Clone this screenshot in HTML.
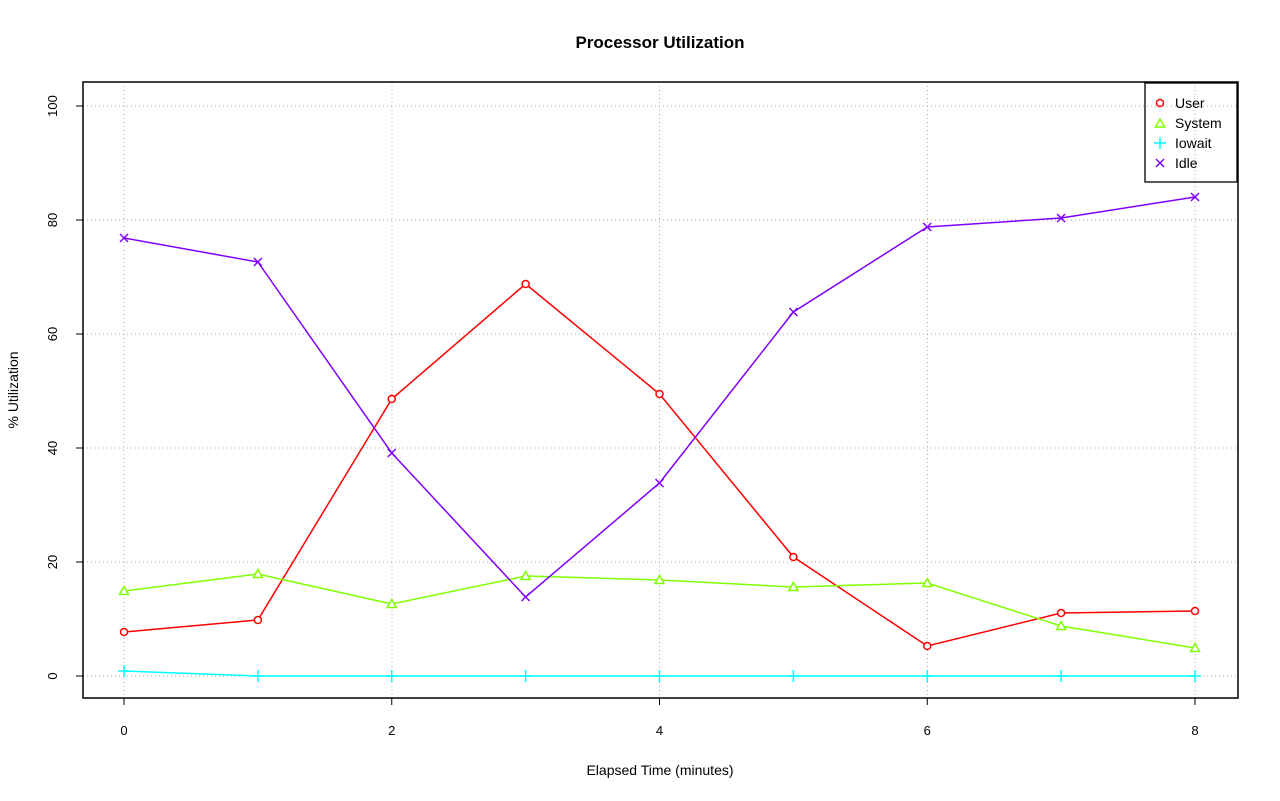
<!DOCTYPE html>
<html><head><meta charset="utf-8"><style>body{margin:0;background:#fff}svg{display:block}text{font-family:"Liberation Sans",sans-serif}</style></head>
<body>
<svg id="s" width="1280" height="801" xmlns="http://www.w3.org/2000/svg">
<rect width="1280" height="801" fill="#fff"/>
<text x="660" y="48" text-anchor="middle" font-size="17" font-weight="bold">Processor Utilization</text>
<text x="660" y="775" text-anchor="middle" font-size="14">Elapsed Time (minutes)</text>
<text transform="translate(18,390) rotate(-90)" text-anchor="middle" font-size="14">% Utilization</text>
<g id="grid" stroke="#a8a8a8" stroke-dasharray="1,3" stroke-width="1" shape-rendering="crispEdges"></g>
<rect x="83" y="82" width="1155" height="616" fill="none" stroke="#000" stroke-width="1.5"/>
<g id="ax" font-size="13"></g>
<g id="ser"></g>
<rect x="1145" y="83" width="92" height="99" fill="none" stroke="#000" stroke-width="1.3"/>
<g font-size="14">
<circle cx="1160" cy="103" r="3.5" fill="none" stroke="#f00" stroke-width="1.5"/><text x="1175" y="108">User</text>
<path d="M1160,119 L1164.5,127 L1155.5,127 Z" fill="none" stroke="#80ff00" stroke-width="1.5"/><text x="1175" y="128">System</text>
<path d="M1154,143 H1166 M1160,137 V149" stroke="#00ffff" stroke-width="1.5"/><text x="1175" y="148">Iowait</text>
<path d="M1156,159 L1164,167 M1164,159 L1156,167" stroke="#8000ff" stroke-width="1.5"/><text x="1175" y="168">Idle</text>
</g>
</svg>
<script>
const NS="http://www.w3.org/2000/svg";
function el(p,t,a,txt){const e=document.createElementNS(NS,t);for(const k in a)e.setAttribute(k,a[k]);if(txt!==undefined)e.textContent=txt;document.getElementById(p).appendChild(e);return e;}
const X=i=>124+i*133.875;
for(let i=0;i<=8;i+=2){el("grid","line",{x1:X(i),x2:X(i),y1:82,y2:698});
 el("ax","line",{x1:X(i),x2:X(i),y1:698,y2:705,stroke:"#000"});
 el("ax","text",{x:X(i),y:735,"text-anchor":"middle"},i);}
el("ax","line",{x1:X(0),x2:X(8),y1:698,y2:698,stroke:"#000"});
for(let v=0;v<=100;v+=20){const y=676-v*5.7;el("grid","line",{x1:83,x2:1238,y1:y,y2:y});
 el("ax","line",{x1:76,x2:83,y1:y,y2:y,stroke:"#000"});
 el("ax","text",{x:0,y:0,transform:`translate(57,${y}) rotate(-90)`,"text-anchor":"middle"},v);}
const S=[
["#f00",[632,620,399,284,394,557,646,613,611],"o"],
["#80ff00",[591,574,604,576,580,587,583,626,648],"t"],
["#00ffff",[671,676,676,676,676,676,676,676,676],"p"],
["#8000ff",[238,262,453,597,483,312,227,218,197],"x"]];
for(const [c,ys,m] of S){
 el("ser","polyline",{points:ys.map((y,i)=>X(i)+","+y).join(" "),fill:"none",stroke:c,"stroke-width":1.5});
 ys.forEach((y,i)=>{const x=X(i);
  if(m=="o")el("ser","circle",{cx:x,cy:y,r:3.5,fill:"#fff",stroke:c,"stroke-width":1.5});
  if(m=="t")el("ser","path",{d:`M${x},${y-4.5} L${x+4.5},${y+3.5} L${x-4.5},${y+3.5} Z`,fill:"#fff",stroke:c,"stroke-width":1.5});
  if(m=="p")el("ser","path",{d:`M${x-6},${y} H${x+6} M${x},${y-6} V${y+6}`,stroke:c,"stroke-width":1.5});
  if(m=="x")el("ser","path",{d:`M${x-4},${y-4} L${x+4},${y+4} M${x+4},${y-4} L${x-4},${y+4}`,stroke:c,"stroke-width":1.5});
 });}
</script>
</body></html>
